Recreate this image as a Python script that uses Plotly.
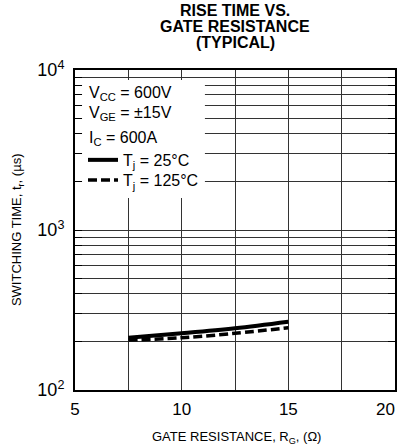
import plotly.graph_objects as go

rg = [7.5, 10, 12.5, 15]
tr_25 = [212, 226, 243, 267]
tr_125 = [205, 212, 226, 245]

x_ticks = [5, 10, 15, 20]
x_grid = [5, 7.5, 10, 12.5, 15, 17.5, 20]
y_decades = [100, 1000, 10000]
y_grid = [m * d for d in (100, 1000) for m in range(1, 10)] + [10000]
y_labels = ["10<sup>2</sup>", "10<sup>3</sup>", "10<sup>4</sup>"]

title_lines = ["RISE TIME VS.", "GATE RESISTANCE", "(TYPICAL)"]
cond_lines = ["V<sub>CC</sub> = 600V", "V<sub>GE</sub> = ±15V", "I<sub>C</sub> = 600A"]
x_title = "GATE RESISTANCE, R<sub>G</sub>, (Ω)"
y_title = "SWITCHING TIME, t<sub>r</sub>, (µs)"

FONT = "Liberation Sans, Arial, Helvetica, sans-serif"

fig = go.Figure()
fig.add_trace(go.Scatter(x=rg, y=tr_25, mode="lines", name="T<sub>j</sub> = 25°C",
                         legend="legend",
                         line=dict(color="black", width=4, shape="spline")))
fig.add_trace(go.Scatter(x=rg, y=tr_125, mode="lines", name="T<sub>j</sub> = 125°C",
                         legend="legend2",
                         line=dict(color="black", width=3.5, dash="9px,4px", shape="spline")))

ytext = [y_labels[y_decades.index(v)] if v in y_decades else "" for v in y_grid]
xtext = []
for v in x_grid:
    if v in x_ticks:
        s = str(v)
        if v == x_grid[-1]:
            s = s + "\u00a0" * 4
        xtext.append(s)
    else:
        xtext.append("")

leg_common = dict(xanchor="left", yanchor="top", bgcolor="rgba(0,0,0,0)", borderwidth=0,
                  font=dict(size=16, family=FONT), itemwidth=30)

fig.update_layout(
    width=404, height=444,
    margin=dict(l=75, r=9, t=70, b=54, autoexpand=False),
    paper_bgcolor="white", plot_bgcolor="white",
    font=dict(family=FONT, color="black"),
    showlegend=True,
    legend=dict(x=0.025, y=0.772, **leg_common),
    legend2=dict(x=0.025, y=0.709, **leg_common),
    xaxis=dict(range=[5, 20], tickmode="array", tickvals=x_grid, ticktext=xtext,
               showgrid=True, gridcolor="#333", gridwidth=1,
               showline=True, linecolor="black", linewidth=2, mirror=True,
               ticks="", tickfont=dict(size=17), zeroline=False, ticklabelstandoff=3,
               automargin=False, ticklabeloverflow="allow"),
    yaxis=dict(type="log", range=[2, 4], tickmode="array", tickvals=y_grid, ticktext=ytext,
               showgrid=True, gridcolor="#333", gridwidth=1,
               showline=True, linecolor="black", linewidth=2, mirror="ticks",
               ticks="inside", ticklen=7, tickcolor="black", tickwidth=1,
               tickfont=dict(size=18), zeroline=False, ticklabelstandoff=5,
               automargin=False),
)

fig.add_shape(type="rect", xref="x domain", yref="y domain",
              x0=0.022, x1=0.406, y0=0.6, y1=0.969,
              fillcolor="white", line=dict(width=0), layer="above")

for t, yy in zip(title_lines, [1.186, 1.135, 1.086]):
    fig.add_annotation(text="<b>" + t + "</b>", xref="paper", yref="paper", x=0.5, y=yy,
                       xanchor="center", yanchor="middle", showarrow=False,
                       font=dict(size=16, family=FONT))

for t, yy in zip(cond_lines, [0.925, 0.863, 0.7845]):
    fig.add_annotation(text=t, xref="paper", yref="paper", x=0.0375, y=yy,
                       xanchor="left", yanchor="middle", showarrow=False,
                       font=dict(size=16, family=FONT))

fig.add_annotation(text=x_title, xref="paper", yref="paper", x=0.505, y=-0.147,
                   xanchor="center", yanchor="middle", showarrow=False,
                   font=dict(size=13, family=FONT))
fig.add_annotation(text=y_title, xref="paper", yref="paper", x=-0.181, y=0.5,
                   xanchor="center", yanchor="middle", showarrow=False, textangle=-90,
                   font=dict(size=13, family=FONT))

fig.write_html("out.html", config={"displayModeBar": False, "staticPlot": True},
               post_script="document.body.style.margin='0';document.body.style.overflow='hidden';")
